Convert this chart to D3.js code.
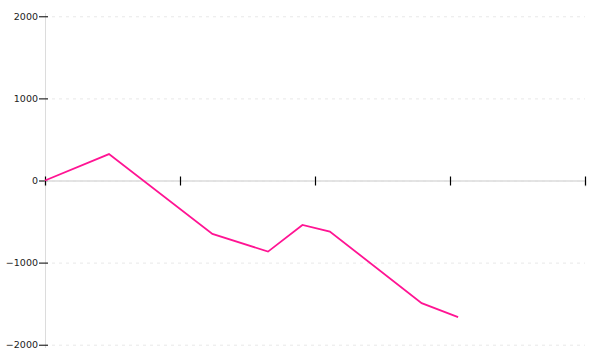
<!doctype html>
<html lang="en">
<head>
    <meta charset="UTF-8">
    <title>Line chart</title>
    <script src="https://d3js.org/d3.v7.min.js"></script>
    <style>
        body { margin: 0; background: #fff; }
        text { font-family: "DejaVu Sans", sans-serif; }
    </style>
</head>
<body>
<div id="chart"></div>
<script>
    // data
    var xValues = [0, 0.474, 1.24, 1.652, 1.907, 2.11, 2.79, 3.06];
    var yValues = [0, 322, -650, -866, -541, -622, -1493, -1663];
    var xTicks = [0, 1, 2, 3, 4];
    var yTicks = [-2000, -1000, 0, 1000, 2000];

    var margin = {top: 13, right: 15, bottom: 12, left: 45},
        width = 600 - margin.left - margin.right,
        height = 360 - margin.top - margin.bottom;

    var svg = d3.select("#chart")
        .append("svg")
        .attr("width", 600)
        .attr("height", 360)
        .append("g")
        .attr("transform", "translate(" + margin.left + "," + margin.top + ")");

    var x = d3.scaleLinear().domain([0, 4]).range([0, width]);
    var y = d3.scaleLinear().domain([-2040, 2040]).range([height, 0]);

    // dashed grid
    svg.append("g")
        .selectAll("line")
        .data(yTicks)
        .enter()
        .append("line")
        .attr("x1", 0)
        .attr("x2", width)
        .attr("y1", function (d) { return y(d) + 0.5; })
        .attr("y2", function (d) { return y(d) + 0.5; })
        .attr("stroke", "#e8e8e8")
        .attr("stroke-dasharray", "3,4");

    // y axis
    var yAxis = svg.append("g")
        .call(d3.axisLeft(y).tickValues(yTicks).tickFormat(d3.format("d")).tickSize(6).tickPadding(1));
    yAxis.select(".domain").attr("stroke", "#dcdcdc").attr("d", "M0.5," + y.range()[0] + "V" + y.range()[1]);
    yAxis.selectAll(".tick line").attr("x1", 3).attr("stroke", "#000");
    yAxis.selectAll(".tick text").attr("font-size", 9.5).attr("fill", "#222");

    // x axis through zero, ticks cross the line, no labels
    var xAxis = svg.append("g")
        .attr("transform", "translate(0," + y(0) + ")")
        .call(d3.axisBottom(x).tickValues(xTicks).tickFormat(""));
    xAxis.select(".domain").attr("stroke", "#dcdcdc").attr("stroke-width", 1.5);
    xAxis.selectAll(".tick line").attr("y1", -4).attr("y2", 5).attr("stroke", "#000").attr("stroke-width", 1.2);

    // the line
    var data = xValues.map(function (d, i) { return {x: d, y: yValues[i]}; });
    svg.append("path")
        .datum(data)
        .attr("fill", "none")
        .attr("stroke", "#ff1493")
        .attr("stroke-width", 1.8)
        .attr("d", d3.line()
            .x(function (d) { return x(d.x); })
            .y(function (d) { return y(d.y); })
        );
</script>
</body>
</html>
